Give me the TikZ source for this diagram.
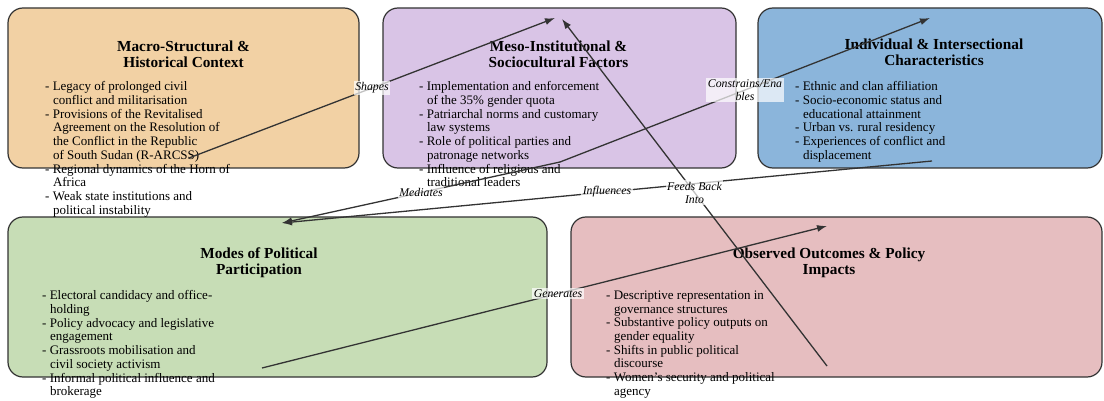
\documentclass[tikz,border=0pt]{standalone}
\usepackage{fontspec}
\setmainfont{Liberation Serif}
\usetikzlibrary{arrows.meta}

\definecolor{macrofill}{RGB}{242,209,164}
\definecolor{mesofill}{RGB}{217,196,230}
\definecolor{indivfill}{RGB}{139,181,219}
\definecolor{modesfill}{RGB}{199,221,182}
\definecolor{outfill}{RGB}{230,190,192}
\definecolor{edgegray}{RGB}{51,51,51}

\tikzset{
  box/.style={draw=edgegray, line width=1.2pt, rounded corners=15pt, minimum height=160pt, inner sep=0pt},
  boxtitle/.style={anchor=north, align=center, inner sep=0pt, font=\bfseries\fontsize{15.3}{16}\selectfont},
  items/.style={anchor=north west, align=left, inner sep=0pt, font=\fontsize{13}{13.7}\selectfont},
  rel/.style={draw=edgegray, line width=1.3pt, -{Latex[length=10pt,width=7pt]}},
  lbl/.style={fill=white, fill opacity=0.7, text opacity=1, inner sep=1.5pt, align=center, font=\itshape\fontsize{11.8}{13}\selectfont}
}
\newcommand{\hang}{\hspace*{0.6em}}

\begin{document}
\begin{tikzpicture}[x=1pt,y=-1pt]
\useasboundingbox (0,0) rectangle (1104,401);

\node[box, fill=macrofill, minimum width=351pt] (macro) at (183.5,88) {};
\node[box, fill=mesofill, minimum width=353pt] (meso) at (559.5,88) {};
\node[box, fill=indivfill, minimum width=344pt] (indiv) at (930,88) {};
\node[box, fill=modesfill, minimum width=539pt] (modes) at (277.5,297) {};
\node[box, fill=outfill, minimum width=531pt] (outcomes) at (836.5,297) {};

\node[boxtitle] (macro-title) at (183.5,41) {Macro-Structural \&\\Historical Context};
\node[boxtitle] (meso-title) at (558.5,41) {Meso-Institutional \&\\Sociocultural Factors};
\node[boxtitle] (indiv-title) at (934,39) {Individual \& Intersectional\\Characteristics};
\node[boxtitle] (modes-title) at (259,248) {Modes of Political\\Participation};
\node[boxtitle] (outcomes-title) at (829,248) {Observed Outcomes \& Policy\\Impacts};

\node[items] (macro-items) at (45,81.5) {- Legacy of prolonged civil\\
\hang conflict and militarisation\\
- Provisions of the Revitalised\\
\hang Agreement on the Resolution of\\
\hang the Conflict in the Republic\\
\hang of South Sudan (R-ARCSS)\\
- Regional dynamics of the Horn of\\
\hang Africa\\
- Weak state institutions and\\
\hang political instability};

\node[items] (meso-items) at (419,81.5) {- Implementation and enforcement\\
\hang of the 35\% gender quota\\
- Patriarchal norms and customary\\
\hang law systems\\
- Role of political parties and\\
\hang patronage networks\\
- Influence of religious and\\
\hang traditional leaders};

\node[items] (indiv-items) at (795,81.5) {- Ethnic and clan affiliation\\
- Socio-economic status and\\
\hang educational attainment\\
- Urban vs. rural residency\\
- Experiences of conflict and\\
\hang displacement};

\node[items] (modes-items) at (42,290.5) {- Electoral candidacy and office-\\
\hang holding\\
- Policy advocacy and legislative\\
\hang engagement\\
- Grassroots mobilisation and\\
\hang civil society activism\\
- Informal political influence and\\
\hang brokerage};

\node[items] (outcomes-items) at (606,290.5) {- Descriptive representation in\\
\hang governance structures\\
- Substantive policy outputs on\\
\hang gender equality\\
- Shifts in public political\\
\hang discourse\\
- Women's security and political\\
\hang agency};

\coordinate (macro-out) at (189,158);
\coordinate (meso-in) at (555,18);
\coordinate (meso-back) at (562,19);
\coordinate (meso-out) at (560,162);
\coordinate (indiv-in) at (930,18);
\coordinate (indiv-out) at (932,161);
\coordinate (modes-in) at (282,223);
\coordinate (modes-out) at (262,368);
\coordinate (outcomes-in) at (827,226);
\coordinate (outcomes-out) at (827,366);

\draw[rel] (macro-out) -- node[lbl] (l-shapes) {Shapes} (meso-in);
\draw[rel] (meso-out) -- node[lbl] (l-mediates) {Mediates} (modes-in);
\draw[rel] (meso-out) -- node[lbl] (l-constrains) {Constrains/Ena\\bles} (indiv-in);
\draw[rel] (indiv-out) -- node[lbl] (l-influences) {Influences} (modes-in);
\draw[rel] (modes-out) -- node[lbl, pos=0.524] (l-generates) {Generates} (outcomes-in);
\draw[rel] (outcomes-out) -- node[lbl] (l-feeds) {Feeds Back\\Into} (meso-back);
\end{tikzpicture}
\end{document}
